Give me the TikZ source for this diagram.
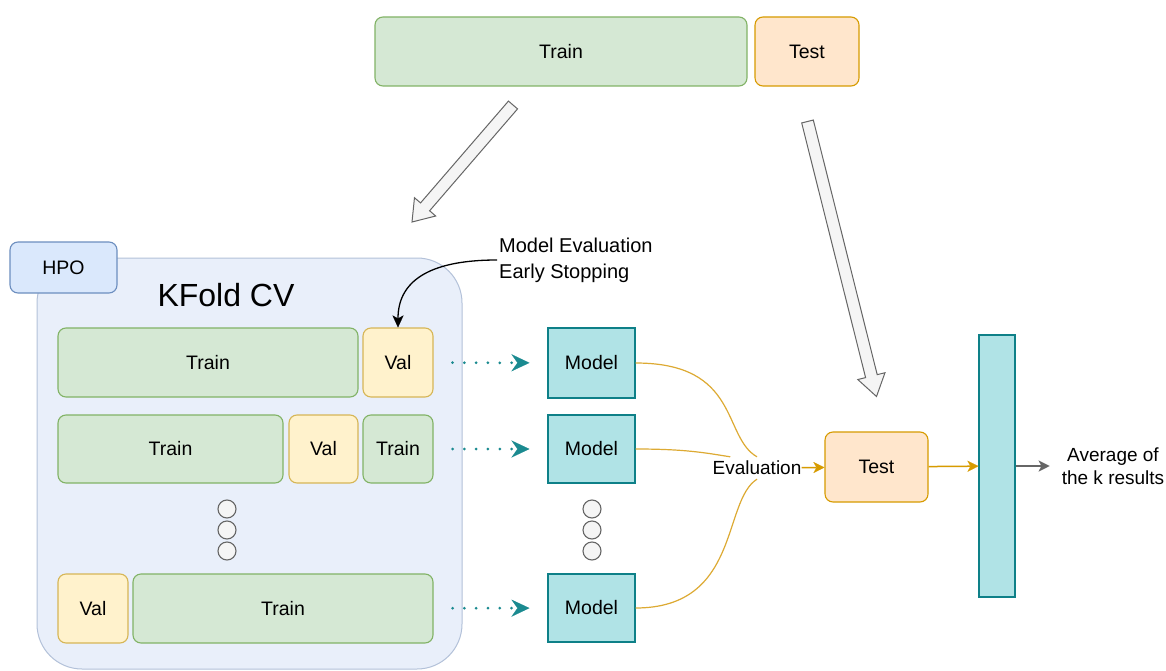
\documentclass[tikz,border=0pt]{standalone}
\usepackage{fontspec}
\setmainfont{Liberation Sans}
\usetikzlibrary{arrows.meta,calc}

\definecolor{trainF}{HTML}{D5E8D4}\definecolor{trainD}{HTML}{82B366}
\definecolor{valF}{HTML}{FFF2CC}\definecolor{valD}{HTML}{D6B656}
\definecolor{testF}{HTML}{FFE6CC}\definecolor{testD}{HTML}{D79B00}
\definecolor{hpoF}{HTML}{DAE8FC}\definecolor{hpoD}{HTML}{6C8EBF}
\definecolor{cvF}{HTML}{E9EFFA}\definecolor{cvD}{HTML}{B3C1D9}
\definecolor{modelF}{HTML}{B0E3E6}\definecolor{modelD}{HTML}{0E8088}
\definecolor{dotF}{HTML}{F5F5F5}\definecolor{dotD}{HTML}{666666}
\definecolor{flowteal}{HTML}{1A8A90}
\definecolor{gold}{HTML}{DDAA33}

\newcommand\fsmain{\fontsize{19.5}{23}\selectfont}
% box given by its corners: style, name, x1, y1, x2, y2, text
\newcommand\mkbox[7]{\node[#1, minimum width={#5pt-#3pt}, minimum height={#6pt-#4pt}] (#2) at ({(#3+#5)/2},{(#4+#6)/2}) {#7};}

\begin{document}
\begin{tikzpicture}[x=1pt,y=-1pt,
  cellbox/.style={draw, line width=1.1pt, rounded corners=8pt, inner sep=0pt, font=\fsmain, text=black},
  trainbox/.style={cellbox, fill=trainF, draw=trainD},
  valbox/.style={cellbox, fill=valF, draw=valD},
  testbox/.style={cellbox, fill=testF, draw=testD},
  hpobox/.style={cellbox, fill=hpoF, draw=hpoD},
  modelbox/.style={draw=modelD, fill=modelF, line width=1.1pt, inner sep=0pt, font=\fsmain},
  cvbox/.style={draw=cvD, fill=cvF, line width=1pt, rounded corners=45pt, inner sep=0pt},
  ellipsis/.style={circle, draw=dotD, fill=dotF, line width=1.1pt, minimum size=18pt, inner sep=0pt},
  dotflow/.style={flowteal, line width=3pt, line cap=round, dash pattern=on 0pt off 11.8pt,
    -{Stealth[length=18pt,width=17pt,inset=6pt,line width=0.1pt]}, shorten <=19pt, shorten >=18pt},
  evcurve/.style={gold, line width=1.2pt},
  goldarrow/.style={testD, line width=1.5pt, -{Stealth[length=11pt,width=11pt,inset=3pt,line width=0.1pt]}},
  grayarrow/.style={dotD, line width=1.5pt, -{Stealth[length=11pt,width=11pt,inset=3pt,line width=0.1pt]}},
  blockarrow/.style={draw=dotD, fill=dotF, line width=1pt, line join=miter},
  label/.style={inner sep=0pt, font=\fsmain, text=black}
]
\useasboundingbox (0,0) rectangle (1166,671);
\fill[white] (0,0) rectangle (1166,671);

% data split
\mkbox{trainbox}{split-train}{375}{17}{747}{86}{Train}
\mkbox{testbox}{split-test}{755}{17}{859}{86}{Test}

% cross-validation container
\mkbox{cvbox}{cv}{37}{258}{462}{669}{}
\mkbox{hpobox}{hpo}{10}{242}{117}{293}{HPO}
\node[label, font=\fontsize{32}{36}\selectfont] (cvtitle) at (226,295) {KFold CV};

% folds
\mkbox{trainbox}{r1t}{58}{328}{358}{397}{Train}
\mkbox{valbox}{r1v}{363}{328}{433}{397}{Val}
\mkbox{trainbox}{r2a}{58}{415}{283}{483}{Train}
\mkbox{valbox}{r2v}{289}{415}{358}{483}{Val}
\mkbox{trainbox}{r2c}{363}{415}{433}{483}{Train}
\mkbox{valbox}{r3v}{58}{574}{128}{643}{Val}
\mkbox{trainbox}{r3t}{133}{574}{433}{643}{Train}
\node[ellipsis] (fd1) at (227,509) {};
\node[ellipsis] (fd2) at (227,530) {};
\node[ellipsis] (fd3) at (227,551) {};

% models
\mkbox{modelbox}{m1}{548}{328}{635}{398}{Model}
\mkbox{modelbox}{m2}{548}{415}{635}{483}{Model}
\mkbox{modelbox}{m3}{548}{574}{635}{642}{Model}
\node[ellipsis] (md1) at (592,509) {};
\node[ellipsis] (md2) at (592,530) {};
\node[ellipsis] (md3) at (592,551) {};

\draw[dotflow] (r1v) -- (m1);
\draw[dotflow] (r2c) -- (m2);
\draw[dotflow] (r3t) -- (m3);

% evaluation on the test split
\node[label, inner xsep=0pt, inner ysep=4pt, font=\fontsize{19}{23}\selectfont] (eval) at (757,468) {Evaluation};
\mkbox{testbox}{test}{825}{432}{928}{502}{Test}
\mkbox{modelbox}{bar}{979}{335}{1015}{597}{}
\node[label, align=center, font=\fontsize{19}{23}\selectfont] (avg) at (1113,466) {Average of\\the k results};

\draw[evcurve] (m1.east) .. controls +(105,0) and +(-35,-20) .. (eval.north);
\draw[evcurve] (m2.east) .. controls +(50,0) and +(-25,-4) .. ($(eval.north west)!0.2!(eval.north east)$);
\draw[evcurve] (m3.east) .. controls +(105,0) and +(-35,22) .. (eval.south);
\draw[goldarrow] (eval) -- (test);
\draw[goldarrow] (test) -- (bar);
\draw[grayarrow, shorten >=12pt] (bar) -- (avg.west |- bar.east);

% note on validation use
\node[label, align=left, anchor=west, font=\fontsize{20}{26}\selectfont] (note) at (499,260) {Model Evaluation\\Early Stopping};
\draw[line width=1.3pt, -{Stealth[length=12pt,width=11pt,inset=3pt,line width=0.1pt]}]
  ([xshift=-2pt]note.west) .. controls +(-70,0) and +(0,-45) .. (r1v.north);

% block arrows from the split
\coordinate (a1t) at (513,105);
\coordinate (a1p) at (412,222);
\coordinate (a1b) at ($(a1p)!20pt!(a1t)$);
\draw[blockarrow] ($(a1t)!6pt!90:(a1p)$) -- ($(a1b)!6pt!-90:(a1t)$) -- ($(a1b)!14pt!-90:(a1t)$)
  -- (a1p) -- ($(a1b)!14pt!90:(a1t)$) -- ($(a1b)!6pt!90:(a1t)$) -- ($(a1t)!6pt!-90:(a1p)$) -- cycle;

\coordinate (a2t) at (807.5,121.5);
\coordinate (a2p) at (876.5,396.5);
\coordinate (a2b) at ($(a2p)!21pt!(a2t)$);
\draw[blockarrow] ($(a2t)!6pt!90:(a2p)$) -- ($(a2b)!6pt!-90:(a2t)$) -- ($(a2b)!14pt!-90:(a2t)$)
  -- (a2p) -- ($(a2b)!14pt!90:(a2t)$) -- ($(a2b)!6pt!90:(a2t)$) -- ($(a2t)!6pt!-90:(a2p)$) -- cycle;
\end{tikzpicture}
\end{document}
